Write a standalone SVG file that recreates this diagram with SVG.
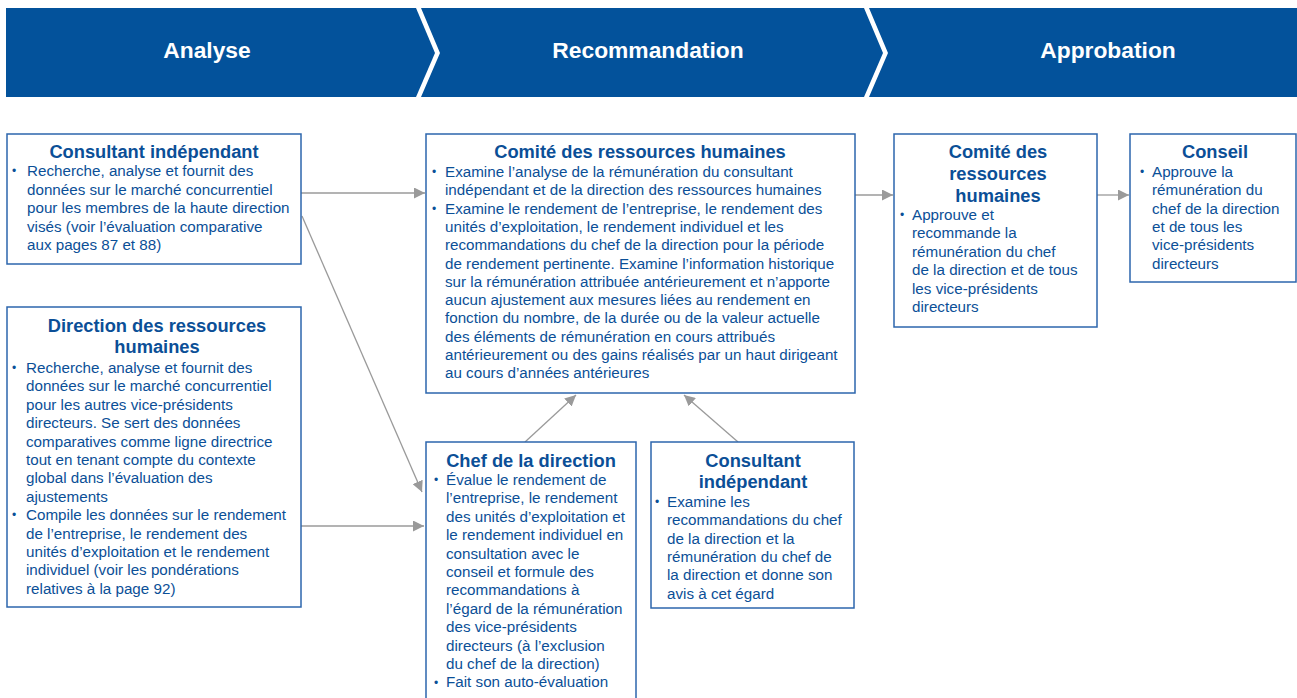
<svg xmlns="http://www.w3.org/2000/svg" width="1297" height="698" viewBox="0 0 1297 698">
<defs>
<style>
.hdr{fill:#03529b}
.ht{font-family:"Liberation Sans",Arial,sans-serif;font-weight:bold;font-size:22.8px;fill:#fff;text-anchor:middle}
.box{fill:#fff;stroke:#2c66ad;stroke-width:1.5}
.ti{font-family:"Liberation Sans",Arial,sans-serif;font-weight:bold;font-size:18.3px;fill:#0b4f97;text-anchor:middle}
.tx{font-family:"Liberation Sans",Arial,sans-serif;font-size:15.2px;fill:#0b4f97}
.bu{font-family:"Liberation Sans",Arial,sans-serif;font-size:12px;fill:#0b4f97}
.cn{stroke:#9a9a9a;stroke-width:1.3;fill:none;marker-end:url(#ah)}
</style>
<marker id="ah" viewBox="0 0 10 10" refX="10" refY="5" markerWidth="11" markerHeight="11" markerUnits="userSpaceOnUse" orient="auto">
<path d="M0,0 L10,5 L0,10 Z" fill="#9a9a9a"/>
</marker>
</defs>

<g id="header">
<polygon class="hdr" points="6,8 416,8 435,53 416,97 6,97"/>
<polygon class="hdr" points="421,8 864,8 883,53 864,97 421,97 440,53"/>
<polygon class="hdr" points="869,8 1297,8 1297,97 869,97 888,53"/>
<text class="ht" x="207" y="58">Analyse</text>
<text class="ht" x="648" y="58">Recommandation</text>
<text class="ht" x="1108" y="58">Approbation</text>
</g>

<g id="connectors">
<line class="cn" x1="301" y1="193" x2="425" y2="193"/>
<line class="cn" x1="302" y1="216" x2="422" y2="492"/>
<line class="cn" x1="301" y1="526" x2="424" y2="526"/>
<line class="cn" x1="525" y1="442" x2="576" y2="395"/>
<line class="cn" x1="738" y1="442" x2="684" y2="395"/>
<line class="cn" x1="855" y1="195" x2="893" y2="195"/>
<line class="cn" x1="1097" y1="195" x2="1129" y2="195"/>
</g>

<g id="consultant-analyse">
<rect class="box" x="7" y="134" width="294" height="130"/>
<text class="ti" x="154" y="158">Consultant indépendant</text>
<text class="bu" x="12" y="175">•</text>
<text class="tx" x="27" y="176">Recherche, analyse et fournit des</text>
<text class="tx" x="27" y="194.5">données sur le marché concurrentiel</text>
<text class="tx" x="27" y="213">pour les membres de la haute direction</text>
<text class="tx" x="27" y="231.5">visés (voir l’évaluation comparative</text>
<text class="tx" x="27" y="250">aux pages 87 et 88)</text>
</g>

<g id="direction-rh">
<rect class="box" x="7" y="307" width="294" height="300"/>
<text class="ti" x="157" y="332">Direction des ressources</text>
<text class="ti" x="157" y="353">humaines</text>
<text class="bu" x="12" y="372">•</text>
<text class="tx" x="26" y="373">Recherche, analyse et fournit des</text>
<text class="tx" x="26" y="391.4">données sur le marché concurrentiel</text>
<text class="tx" x="26" y="409.8">pour les autres vice-présidents</text>
<text class="tx" x="26" y="428.2">directeurs. Se sert des données</text>
<text class="tx" x="26" y="446.6">comparatives comme ligne directrice</text>
<text class="tx" x="26" y="465">tout en tenant compte du contexte</text>
<text class="tx" x="26" y="483.4">global dans l’évaluation des</text>
<text class="tx" x="26" y="501.8">ajustements</text>
<text class="bu" x="12" y="519">•</text>
<text class="tx" x="26" y="520.2">Compile les données sur le rendement</text>
<text class="tx" x="26" y="538.6">de l’entreprise, le rendement des</text>
<text class="tx" x="26" y="557">unités d’exploitation et le rendement</text>
<text class="tx" x="26" y="575.4">individuel (voir les pondérations</text>
<text class="tx" x="26" y="593.8">relatives à la page 92)</text>
</g>

<g id="comite-rh-recommandation">
<rect class="box" x="426" y="134" width="429" height="259"/>
<text class="ti" x="640" y="158">Comité des ressources humaines</text>
<text class="bu" x="432" y="176">•</text>
<text class="tx" x="445" y="177">Examine l’analyse de la rémunération du consultant</text>
<text class="tx" x="445" y="195.3">indépendant et de la direction des ressources humaines</text>
<text class="bu" x="432" y="213">•</text>
<text class="tx" x="445" y="213.6">Examine le rendement de l’entreprise, le rendement des</text>
<text class="tx" x="445" y="231.9">unités d’exploitation, le rendement individuel et les</text>
<text class="tx" x="445" y="250.2">recommandations du chef de la direction pour la période</text>
<text class="tx" x="445" y="268.5">de rendement pertinente. Examine l’information historique</text>
<text class="tx" x="445" y="286.8">sur la rémunération attribuée antérieurement et n’apporte</text>
<text class="tx" x="445" y="305.1">aucun ajustement aux mesures liées au rendement en</text>
<text class="tx" x="445" y="323.4">fonction du nombre, de la durée ou de la valeur actuelle</text>
<text class="tx" x="445" y="341.7">des éléments de rémunération en cours attribués</text>
<text class="tx" x="445" y="360">antérieurement ou des gains réalisés par un haut dirigeant</text>
<text class="tx" x="445" y="378.3">au cours d’années antérieures</text>
</g>

<g id="chef-direction">
<rect class="box" x="426" y="442" width="210" height="260"/>
<text class="ti" x="531" y="467">Chef de la direction</text>
<text class="bu" x="434" y="484">•</text>
<text class="tx" x="446" y="485">Évalue le rendement de</text>
<text class="tx" x="446" y="503.4">l’entreprise, le rendement</text>
<text class="tx" x="446" y="521.8">des unités d’exploitation et</text>
<text class="tx" x="446" y="540.2">le rendement individuel en</text>
<text class="tx" x="446" y="558.6">consultation avec le</text>
<text class="tx" x="446" y="577">conseil et formule des</text>
<text class="tx" x="446" y="595.4">recommandations à</text>
<text class="tx" x="446" y="613.8">l’égard de la rémunération</text>
<text class="tx" x="446" y="632.2">des vice-présidents</text>
<text class="tx" x="446" y="650.6">directeurs (à l’exclusion</text>
<text class="tx" x="446" y="669">du chef de la direction)</text>
<text class="bu" x="434" y="687">•</text>
<text class="tx" x="446" y="687.4">Fait son auto-évaluation</text>
</g>

<g id="consultant-recommandation">
<rect class="box" x="651" y="442" width="203" height="166"/>
<text class="ti" x="753" y="467">Consultant</text>
<text class="ti" x="753" y="488">indépendant</text>
<text class="bu" x="655" y="506">•</text>
<text class="tx" x="667" y="507">Examine les</text>
<text class="tx" x="667" y="525.3">recommandations du chef</text>
<text class="tx" x="667" y="543.6">de la direction et la</text>
<text class="tx" x="667" y="561.9">rémunération du chef de</text>
<text class="tx" x="667" y="580.2">la direction et donne son</text>
<text class="tx" x="667" y="598.5">avis à cet égard</text>
</g>

<g id="comite-rh-approbation">
<rect class="box" x="894" y="134" width="203" height="193"/>
<text class="ti" x="998" y="158">Comité des</text>
<text class="ti" x="998" y="180">ressources</text>
<text class="ti" x="998" y="202">humaines</text>
<text class="bu" x="900" y="219">•</text>
<text class="tx" x="912" y="220">Approuve et</text>
<text class="tx" x="912" y="238.4">recommande la</text>
<text class="tx" x="912" y="256.8">rémunération du chef</text>
<text class="tx" x="912" y="275.2">de la direction et de tous</text>
<text class="tx" x="912" y="293.6">les vice-présidents</text>
<text class="tx" x="912" y="312">directeurs</text>
</g>

<g id="conseil">
<rect class="box" x="1130" y="134" width="166" height="148"/>
<text class="ti" x="1215" y="158">Conseil</text>
<text class="bu" x="1140" y="176">•</text>
<text class="tx" x="1152" y="177">Approuve la</text>
<text class="tx" x="1152" y="195.3">rémunération du</text>
<text class="tx" x="1152" y="213.6">chef de la direction</text>
<text class="tx" x="1152" y="231.9">et de tous les</text>
<text class="tx" x="1152" y="250.2">vice-présidents</text>
<text class="tx" x="1152" y="268.5">directeurs</text>
</g>
</svg>
